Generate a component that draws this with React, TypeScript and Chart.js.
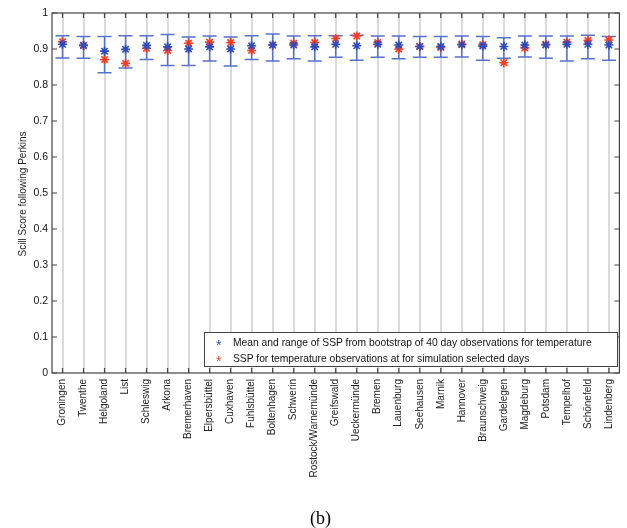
import React, { useEffect, useRef } from "react";
import { Chart, registerables } from "chart.js";
Chart.register(...registerables);

const stations = [
  "Groningen", "Twenthe", "Helgoland", "List", "Schleswig", "Arkona", "Bremerhaven",
  "Elpersbüttel", "Cuxhaven", "Fuhlsbüttel", "Boltenhagen", "Schwerin", "Rostock/Warnemünde",
  "Greifswald", "Ueckermünde", "Bremen", "Lauenburg", "Seehausen", "Marnik", "Hannover",
  "Braunschweig", "Gardelegen", "Magdeburg", "Potsdam", "Tempelhof", "Schönefeld", "Lindenberg",
];
const bootMean = [
  0.913, 0.910, 0.894, 0.899, 0.910, 0.906, 0.900, 0.906, 0.900, 0.909, 0.911, 0.911, 0.906,
  0.913, 0.909, 0.913, 0.911, 0.907, 0.907, 0.912, 0.908, 0.907, 0.911, 0.911, 0.913, 0.913, 0.911,
];
const bootMax = [
  0.937, 0.935, 0.935, 0.937, 0.937, 0.940, 0.933, 0.936, 0.933, 0.937, 0.942, 0.936, 0.937,
  0.937, 0.938, 0.936, 0.936, 0.935, 0.935, 0.936, 0.935, 0.931, 0.936, 0.936, 0.936, 0.938, 0.935,
];
const bootMin = [
  0.875, 0.874, 0.834, 0.847, 0.871, 0.854, 0.854, 0.867, 0.853, 0.871, 0.867, 0.873, 0.867,
  0.877, 0.869, 0.877, 0.873, 0.877, 0.877, 0.878, 0.869, 0.874, 0.878, 0.874, 0.867, 0.873, 0.869,
];
const selectedSSP = [
  0.920, 0.910, 0.871, 0.860, 0.902, 0.896, 0.916, 0.919, 0.918, 0.896, 0.911, 0.916, 0.918,
  0.929, 0.936, 0.918, 0.900, 0.907, 0.904, 0.914, 0.912, 0.862, 0.903, 0.913, 0.919, 0.924, 0.925,
];
const yTickValues = [0, 0.1, 0.2, 0.3, 0.4, 0.5, 0.6, 0.7, 0.8, 0.9, 1];
const yTitle = "Scill Score following Perkins";
const legendLabels = [
  "Mean and range of SSP from bootstrap of 40 day observations for temperature",
  "SSP for temperature observations at for simulation selected days",
];

const BLUE = "#2d4bbf";
const BAR = "#5572cc";
const RED = "#ff3b1f";

const errorBarPlugin = {
  id: "errorBars",
  beforeDatasetsDraw(chart: any) {
    const { ctx, scales } = chart;
    const xs = scales.x, ys = scales.y;
    ctx.save();
    ctx.strokeStyle = BAR;
    ctx.lineWidth = 1.5;
    bootMean.forEach((_, i) => {
      const x = xs.getPixelForValue(i + 1);
      const t = ys.getPixelForValue(bootMax[i]);
      const b = ys.getPixelForValue(bootMin[i]);
      ctx.beginPath();
      ctx.moveTo(x, t); ctx.lineTo(x, b);
      ctx.moveTo(x - 7, t); ctx.lineTo(x + 7, t);
      ctx.moveTo(x - 7, b); ctx.lineTo(x + 7, b);
      ctx.stroke();
    });
    ctx.restore();
  },
};

const boxPlugin = {
  id: "boxTicks",
  afterDraw(chart: any) {
    const { ctx, chartArea: a, scales } = chart;
    ctx.save();
    ctx.strokeStyle = "#444";
    ctx.lineWidth = 1.2;
    ctx.strokeRect(a.left, a.top, a.right - a.left, a.bottom - a.top);
    ctx.beginPath();
    yTickValues.forEach((v) => {
      const y = scales.y.getPixelForValue(v);
      ctx.moveTo(a.left, y); ctx.lineTo(a.left + 5, y);
      ctx.moveTo(a.right, y); ctx.lineTo(a.right - 5, y);
    });
    stations.forEach((_, i) => {
      const x = scales.x.getPixelForValue(i + 1);
      ctx.moveTo(x, a.top); ctx.lineTo(x, a.top + 5);
      ctx.moveTo(x, a.bottom); ctx.lineTo(x, a.bottom - 5);
    });
    ctx.stroke();
    // y axis title
    ctx.translate(23, (a.top + a.bottom) / 2 + 1);
    ctx.rotate(-Math.PI / 2);
    ctx.fillStyle = "#222";
    ctx.font = "10px 'Liberation Sans', Arial";
    ctx.textAlign = "center";
    ctx.textBaseline = "middle";
    ctx.fillText(yTitle, 0, 0);
    ctx.restore();
  },
};

export default function App() {
  const ref = useRef<HTMLCanvasElement>(null);
  useEffect(() => {
    if (!ref.current) return;
    const chart = new Chart(ref.current, {
      type: "scatter",
      data: {
        datasets: [
          {
            label: legendLabels[0],
            data: bootMean.map((v, i) => ({ x: i + 1, y: v })),
            pointStyle: "star",
            radius: 4.5,
            borderWidth: 1.6,
            borderColor: BLUE,
            backgroundColor: BLUE,
          },
          {
            label: legendLabels[1],
            data: selectedSSP.map((v, i) => ({ x: i + 1, y: v })),
            pointStyle: "star",
            radius: 4.5,
            borderWidth: 1.6,
            borderColor: RED,
            backgroundColor: RED,
          },
        ],
      },
      options: {
        responsive: false,
        animation: false,
        layout: { padding: { left: 0, top: 13, right: 4, bottom: 0 } },
        plugins: { legend: { display: false }, tooltip: { enabled: false } },
        scales: {
          x: {
            type: "linear",
            min: 0.5,
            max: 27.5,
            afterBuildTicks: (s: any) => {
              s.ticks = stations.map((_, i) => ({ value: i + 1 }));
            },
            afterFit: (s: any) => { s.height = 155; },
            grid: { display: true, color: "#dadada", lineWidth: 2, drawTicks: false, tickLength: 0 },
            border: { display: false },
            ticks: {
              autoSkip: false,
              minRotation: 90,
              maxRotation: 90,
              padding: 6,
              color: "#222",
              font: { family: "Liberation Sans, Arial", size: 10 },
              callback: (v: any) => stations[Math.round(v) - 1] ?? "",
            },
          },
          y: {
            min: 0,
            max: 1,
            afterBuildTicks: (s: any) => {
              s.ticks = yTickValues.map((v) => ({ value: v }));
            },
            afterFit: (s: any) => { s.width = 52; },
            grid: { display: false, drawTicks: false, tickLength: 0 },
            border: { display: false },
            title: { display: false },
            ticks: {
              padding: 4,
              color: "#111",
              font: { family: "Liberation Sans, Arial", size: 10.5 },
              callback: (v: any) => String(Math.round(v * 10) / 10),
            },
          },
        },
      },
      plugins: [errorBarPlugin, boxPlugin],
    });
    return () => chart.destroy();
  }, []);

  return (
    <div style={{ position: "fixed", left: 0, top: 0, width: 627, height: 528, background: "#fff" }}>
      <canvas ref={ref} width={627} height={528} style={{ display: "block" }} />
      <div
        style={{
          position: "absolute", left: 204, top: 332, width: 414, height: 35,
          boxSizing: "border-box", border: "1px solid #444", background: "#fff",
          fontFamily: "Liberation Sans, Arial", fontSize: 10.3, color: "#111",
        }}
      >
        <div style={{ position: "absolute", left: 11, top: 3, lineHeight: "14px", whiteSpace: "nowrap" }}>
          <span style={{ color: BLUE, display: "inline-block", width: 17, fontSize: 14, verticalAlign: "middle", lineHeight: "14px", position: "relative", top: 2 }}>*</span>{legendLabels[0]}
        </div>
        <div style={{ position: "absolute", left: 11, top: 19, lineHeight: "14px", whiteSpace: "nowrap" }}>
          <span style={{ color: RED, display: "inline-block", width: 17, fontSize: 14, verticalAlign: "middle", lineHeight: "14px", position: "relative", top: 2 }}>*</span>{legendLabels[1]}
        </div>
      </div>
      <div
        style={{
          position: "absolute", left: 0, width: 627, top: 507, textAlign: "center",
          fontFamily: "Liberation Serif, Times New Roman, serif", fontSize: 18, lineHeight: "22px", paddingLeft: 14, boxSizing: "border-box",
        }}
      >
        (b)
      </div>
    </div>
  );
}
